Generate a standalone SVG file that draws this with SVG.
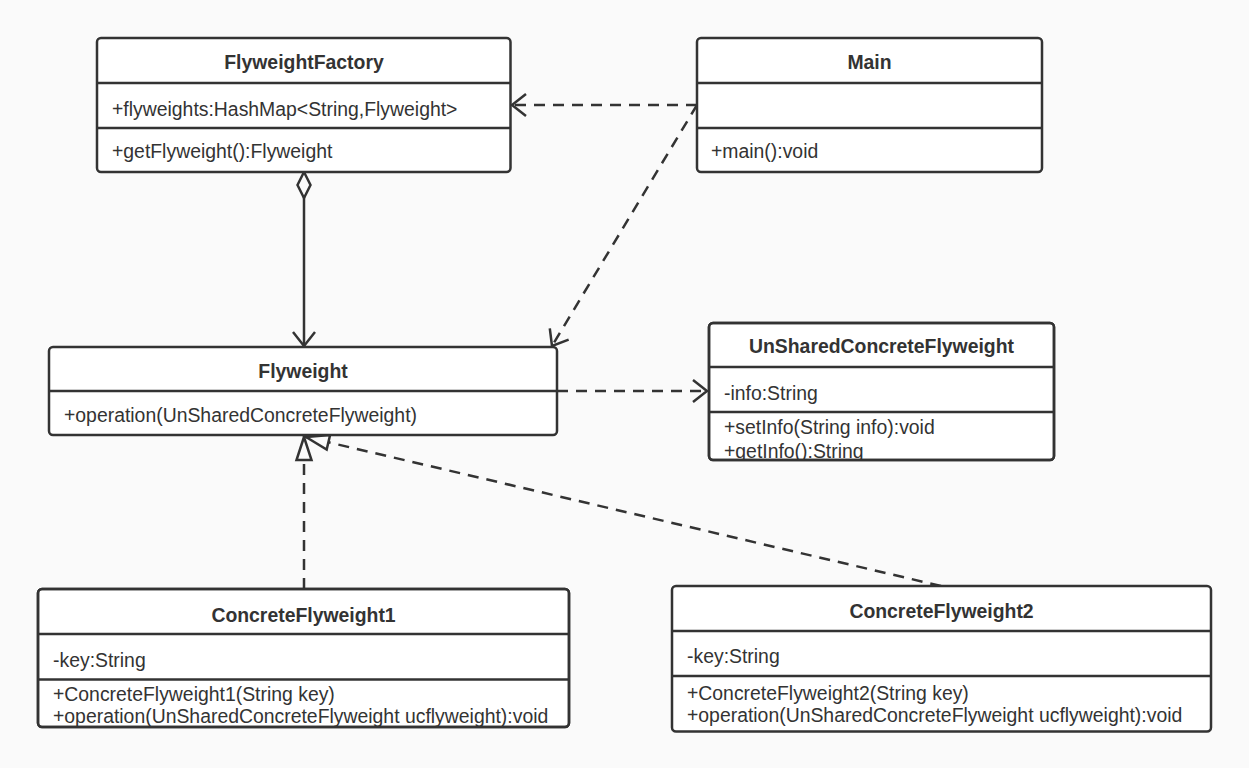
<svg xmlns="http://www.w3.org/2000/svg" width="1249" height="768" viewBox="0 0 1249 768">
<defs>
<style>
.box{fill:#fff;stroke:#333;stroke-width:2.5}
.dv{stroke:#333;stroke-width:2.5}
.t{font-family:"Liberation Sans",Arial,Helvetica,sans-serif;font-size:19.4px;fill:#333}
.b{font-weight:bold;text-anchor:middle}
.c{fill:none;stroke:#333;stroke-width:2.5}
.d{stroke-dasharray:11 8}
</style>
<marker id="open" markerUnits="userSpaceOnUse" orient="auto" refX="0" refY="0" markerWidth="40" markerHeight="40" overflow="visible">
<path d="M-14,-11 L0,0 L-14,11" fill="none" stroke="#333" stroke-width="2.5" stroke-dasharray="none"/>
</marker>
<marker id="tri" markerUnits="userSpaceOnUse" orient="auto" refX="0" refY="0" markerWidth="40" markerHeight="40" overflow="visible">
<path d="M0,0 L-23,-7.5 L-23,7.5 Z" fill="#fafafa" stroke="#333" stroke-width="2.5" stroke-dasharray="none"/>
</marker>
<marker id="dia" markerUnits="userSpaceOnUse" orient="auto" refX="0" refY="0" markerWidth="40" markerHeight="40" overflow="visible">
<path d="M0,0 L13,-6.5 L26,0 L13,6.5 Z" fill="#fafafa" stroke="#333" stroke-width="2.5" stroke-dasharray="none"/>
</marker>
<clipPath id="cpU"><rect x="709" y="323" width="345" height="137"/></clipPath>
<clipPath id="cpC1"><rect x="38" y="589" width="531" height="138"/></clipPath>
</defs>
<rect x="0" y="0" width="1249" height="768" fill="#fafafa"/>

<g id="connectors">
<path class="c d" d="M697,105 L512,105" marker-end="url(#open)"/>
<path class="c d" d="M697,105 L552,346" marker-end="url(#open)"/>
<path class="c" d="M304,172 L304,346" marker-start="url(#dia)" marker-end="url(#open)"/>
<path class="c d" d="M557,391 L707,391" marker-end="url(#open)"/>
<path class="c d" d="M304,589 L304,437" marker-end="url(#tri)"/>
<path class="c d" d="M941,586 L306,437" marker-end="url(#tri)"/>
</g>

<g id="FlyweightFactory">
<rect class="box" x="97" y="38" width="413.5" height="134" rx="4"/>
<line class="dv" x1="97" y1="83" x2="510.5" y2="83"/>
<line class="dv" x1="97" y1="128" x2="510.5" y2="128"/>
<text class="t b" x="304" y="69">FlyweightFactory</text>
<text class="t" x="112" y="116">+flyweights:HashMap&lt;String,Flyweight&gt;</text>
<text class="t" x="112" y="158">+getFlyweight():Flyweight</text>
</g>

<g id="Main">
<rect class="box" x="697" y="38" width="345" height="134" rx="4"/>
<line class="dv" x1="697" y1="83" x2="1042" y2="83"/>
<line class="dv" x1="697" y1="128" x2="1042" y2="128"/>
<text class="t b" x="869.5" y="69">Main</text>
<text class="t" x="711" y="158">+main():void</text>
</g>

<g id="Flyweight">
<rect class="box" x="49" y="347" width="508" height="88" rx="4"/>
<line class="dv" x1="49" y1="391" x2="557" y2="391"/>
<text class="t b" x="303" y="378">Flyweight</text>
<text class="t" x="64" y="422">+operation(UnSharedConcreteFlyweight)</text>
</g>

<g id="UnSharedConcreteFlyweight">
<rect class="box" x="709" y="323" width="345" height="137" rx="4"/>
<line class="dv" x1="709" y1="367" x2="1054" y2="367"/>
<line class="dv" x1="709" y1="412" x2="1054" y2="412"/>
<text class="t b" x="881.5" y="353">UnSharedConcreteFlyweight</text>
<g clip-path="url(#cpU)">
<text class="t" x="724" y="399.5">-info:String</text>
<text class="t" x="724" y="434">+setInfo(String info):void</text>
<text class="t" x="724" y="458">+getInfo():String</text>
</g>
<rect x="709" y="323" width="345" height="137" rx="4" fill="none" stroke="#333" stroke-width="2.5"/>
</g>

<g id="ConcreteFlyweight1">
<rect class="box" x="38" y="589" width="531" height="138" rx="4"/>
<line class="dv" x1="38" y1="634" x2="569" y2="634"/>
<line class="dv" x1="38" y1="679.5" x2="569" y2="679.5"/>
<text class="t b" x="303.5" y="622">ConcreteFlyweight1</text>
<g clip-path="url(#cpC1)">
<text class="t" x="53" y="666.5">-key:String</text>
<text class="t" x="53" y="700.5">+ConcreteFlyweight1(String key)</text>
<text class="t" x="53" y="722.5">+operation(UnSharedConcreteFlyweight ucflyweight):void</text>
</g>
<rect x="38" y="589" width="531" height="138" rx="4" fill="none" stroke="#333" stroke-width="2.5"/>
</g>

<g id="ConcreteFlyweight2">
<rect class="box" x="672" y="586" width="539" height="145.5" rx="4"/>
<line class="dv" x1="672" y1="631" x2="1211" y2="631"/>
<line class="dv" x1="672" y1="676" x2="1211" y2="676"/>
<text class="t b" x="941.5" y="617.5">ConcreteFlyweight2</text>
<text class="t" x="687" y="662.5">-key:String</text>
<text class="t" x="687" y="700">+ConcreteFlyweight2(String key)</text>
<text class="t" x="687" y="721.5">+operation(UnSharedConcreteFlyweight ucflyweight):void</text>
</g>
</svg>
